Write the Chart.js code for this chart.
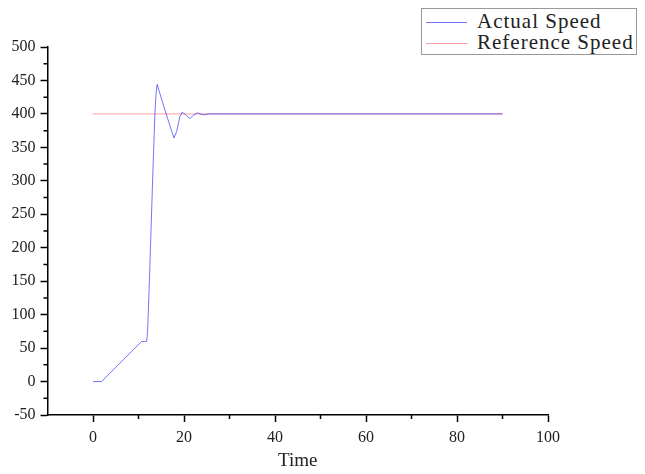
<!DOCTYPE html>
<html>
<head>
<meta charset="utf-8">
<script src="https://cdn.jsdelivr.net/npm/chart.js@4"></script>
<style>
  body { margin: 0; background: #fff; }
  #wrap { position: relative; width: 645px; height: 474px; }
  #legend {
    position: absolute; left: 421px; top: 8px; width: 214px; height: 45px;
    border: 1px solid #999; background: #fff;
    font-family: "Liberation Serif", serif; font-size: 21px; letter-spacing: 1px; color: #222;
  }
  #legend div { position: relative; height: 21px; line-height: 21px; padding-left: 55px; padding-top: 2px; white-space: nowrap; margin-bottom: -2px; }
  #legend span.ln { position: absolute; left: 4px; top: 13px; width: 41px; height: 1px; }
</style>
</head>
<body>
<div id="wrap">
  <canvas id="grafico" width="645" height="474"></canvas>
  <div id="legend"></div>
</div>
<script>
// dados
const tempoReal = [0, 1.9, 10.7, 11.8, 12.0, 12.4, 13.1, 13.6, 13.85, 14.1, 15.8, 17.3, 17.8, 18.4, 19.1, 19.6, 20.3, 21.3, 22.1, 22.9, 24.2, 25.5, 90];
const velReal  = [0, 0, 60, 60, 75, 151, 300, 400, 430, 444, 406, 374, 364, 374, 396, 402.5, 399, 393, 398, 401.6, 398.6, 400, 400];
const tempoRef = [0, 90];
const velRef   = [400, 400];

const xMajor = [0, 20, 40, 60, 80, 100];
const xMinor = [10, 30, 50, 70, 90];
const yMajor = [-50, 0, 50, 100, 150, 200, 250, 300, 350, 400, 450, 500];
const yMinor = [-25, 25, 75, 125, 175, 225, 275, 325, 375, 425, 475];

const series = [
  { label: 'Actual Speed', xs: tempoReal, ys: velReal, cor: 'rgba(0,0,255,0.55)' },
  { label: 'Reference Speed', xs: tempoRef, ys: velRef, cor: 'rgba(255,0,0,0.38)' }
];

const fonteEixo = { family: 'Liberation Serif', size: 16 };

// ticks menores
const minorTicks = {
  id: 'minorTicks',
  afterDraw(chart) {
    const ctx = chart.ctx;
    const x = chart.scales.x, y = chart.scales.y;
    const a = chart.chartArea;
    ctx.save();
    ctx.strokeStyle = '#000';
    ctx.lineWidth = 1.5;
    ctx.beginPath();
    xMinor.forEach(v => {
      const px = x.getPixelForValue(v);
      ctx.moveTo(px, a.bottom); ctx.lineTo(px, a.bottom + 4);
    });
    yMinor.forEach(v => {
      const py = y.getPixelForValue(v);
      ctx.moveTo(a.left, py); ctx.lineTo(a.left - 4, py);
    });
    ctx.stroke();
    ctx.restore();
  }
};

const grafico = new Chart(document.getElementById('grafico'), {
  type: 'line',
  data: {
    datasets: series.map((s, i) => ({
      label: s.label,
      data: s.xs.map((t, k) => ({ x: t, y: s.ys[k] })),
      borderColor: s.cor,
      borderWidth: 1,
      pointRadius: 0,
      tension: 0,
      order: i
    }))
  },
  options: {
    responsive: false,
    animation: false,
    layout: { padding: { top: 47, right: 97, left: 0, bottom: 0 } },
    plugins: { legend: { display: false }, tooltip: { enabled: false } },
    scales: {
      x: {
        type: 'linear', min: -10, max: 100,
        afterBuildTicks: s => { s.ticks = xMajor.map(v => ({ value: v })); },
        afterFit: s => { s.height = 59; },
        grid: { drawOnChartArea: false, drawTicks: true, tickLength: 7, tickWidth: 1.5, tickColor: '#000' },
        border: { color: '#000', width: 1.5 },
        ticks: { color: '#222', font: fonteEixo, padding: 6, maxRotation: 0 },
        title: { display: true, text: 'Time', color: '#222', font: { family: 'Liberation Serif', size: 19 }, padding: { top: 0, bottom: 2 } }
      },
      y: {
        type: 'linear', min: -50, max: 500,
        afterBuildTicks: s => { s.ticks = yMajor.map(v => ({ value: v })); },
        afterFit: s => { s.width = 47.5; },
        grid: { drawOnChartArea: false, drawTicks: true, tickLength: 7, tickWidth: 1.5, tickColor: '#000' },
        border: { color: '#000', width: 1.5 },
        ticks: { color: '#222', font: fonteEixo, padding: 5 }
      }
    }
  },
  plugins: [minorTicks]
});

// legenda em HTML
const leg = document.getElementById('legend');
series.forEach(s => {
  const d = document.createElement('div');
  d.innerHTML = `<span class="ln" style="background:${s.cor}"></span>${s.label}`;
  leg.appendChild(d);
});
</script>
</body>
</html>
